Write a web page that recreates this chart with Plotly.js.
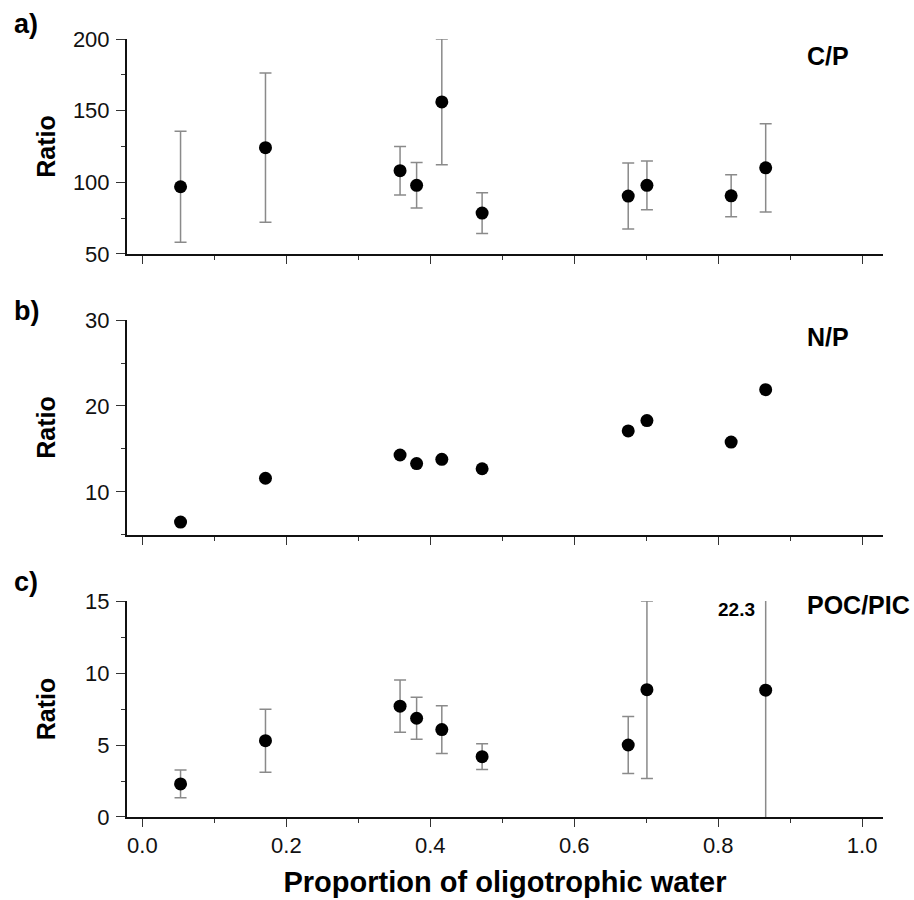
<!DOCTYPE html>
<html>
<head>
<meta charset="utf-8">
<script src="https://cdn.plot.ly/plotly-3.0.1.min.js"></script>
<style>html,body{margin:0;padding:0;background:#fff;}#chart{width:914px;height:900px;}</style>
</head>
<body>
<div id="chart"></div>
<script>
// Proportion of oligotrophic water (x) for each station
const xProp = [0.053, 0.171, 0.358, 0.381, 0.416, 0.472, 0.675, 0.701, 0.818, 0.866];
// a) C/P ratio: mean and error
const cpMean = [96.9, 124.2, 108.1, 97.9, 156.1, 78.5, 90.4, 97.9, 90.6, 110.1];
const cpErr  = [38.8, 52.1, 16.9, 15.9, 43.9, 14.3, 23.0, 17.0, 14.6, 30.8];
// b) N/P ratio: mean
const npMean = [6.5, 11.6, 14.3, 13.3, 13.8, 12.7, 17.1, 18.3, 15.8, 21.9];
// c) POC/PIC ratio: mean and error (no value at 0.818)
const pocMean = [2.3, 5.3, 7.7, 6.86, 6.07, 4.19, 5.0, 8.84, null, 8.81];
const pocErr  = [0.96, 2.19, 1.81, 1.46, 1.66, 0.89, 1.98, 6.16, null, 13.49];
// labels
const panelLetters = ['a)', 'b)', 'c)'];
const panelNames = ['C/P', 'N/P', 'POC/PIC'];
const offScaleLabel = '22.3';
const xTitle = 'Proportion of oligotrophic water';
const yTitle = 'Ratio';

const FONT = '"Liberation Sans", Arial, Helvetica, sans-serif';
const marker = {color: '#000', size: 13, symbol: 'circle'};
const errStyle = {color: '#8a8a8a', thickness: 1.5, width: 6};

const traces = [
  {x: xProp, y: cpMean, type: 'scatter', mode: 'markers', marker: marker, xaxis: 'x', yaxis: 'y',
   error_y: Object.assign({type: 'data', array: cpErr, visible: true}, errStyle)},
  {x: xProp, y: npMean, type: 'scatter', mode: 'markers', marker: marker, xaxis: 'x2', yaxis: 'y2'},
  {x: xProp, y: pocMean, type: 'scatter', mode: 'markers', marker: marker, xaxis: 'x3', yaxis: 'y3',
   error_y: Object.assign({type: 'data', array: pocErr, visible: true}, errStyle)}
];

function xAxis(showLabels, anchor) {
  return {
    anchor: anchor, domain: [0, 1], range: [-0.0214, 1.029],
    showgrid: false, zeroline: false, showline: true, linecolor: '#111', linewidth: 2,
    ticks: 'outside', ticklen: 8, tickwidth: 1, tickcolor: '#333',
    tick0: 0, dtick: 0.2, tickformat: '.1f',
    minor: {dtick: 0.1, ticks: 'outside', ticklen: 4, tickwidth: 1, tickcolor: '#333'},
    showticklabels: showLabels,
    tickfont: {family: FONT, size: 22, color: '#111'}
  };
}
function yAxis(domain, range, dtick, minorDtick, anchor, standoff) {
  return {
    anchor: anchor, domain: domain, range: range,
    showgrid: false, zeroline: false, showline: true, linecolor: '#111', linewidth: 2,
    ticks: 'outside', ticklen: 9, tickwidth: 1, tickcolor: '#333',
    tick0: 0, dtick: dtick,
    minor: {dtick: minorDtick, ticks: 'outside', ticklen: 4, tickwidth: 1, tickcolor: '#333'},
    tickfont: {family: FONT, size: 22, color: '#111'},
    ticklabelstandoff: 2,
    title: {text: yTitle, font: {family: FONT, size: 25, color: '#000', weight: 'bold'}, standoff: standoff}
  };
}

const xa3 = xAxis(true, 'y3');
xa3.title = {text: '<b>' + xTitle + '</b>', font: {family: FONT, size: 29, color: '#000'}, standoff: 14};

function pTop(px) { return 1 - (px - 39) / 778; }

const annotations = [];
const letterY = [24, 311, 582];
panelLetters.forEach((t, i) => annotations.push({
  text: '<b>' + t + '</b>', xref: 'paper', yref: 'paper', x: (12 - 127.3) / 755.4, y: pTop(letterY[i]),
  xanchor: 'left', yanchor: 'middle', showarrow: false, font: {family: FONT, size: 27, color: '#000'}
}));
const nameY = [56, 337, 605];
panelNames.forEach((t, i) => annotations.push({
  text: '<b>' + t + '</b>', xref: 'paper', yref: 'paper', x: (805 - 127.3) / 755.4, y: pTop(nameY[i]),
  xanchor: 'left', yanchor: 'middle', showarrow: false, font: {family: FONT, size: 25, color: '#000'}
}));
annotations.push({
  text: '<b>' + offScaleLabel + '</b>', xref: 'x3', yref: 'y3', x: xProp[9], y: 15,
  xanchor: 'right', yanchor: 'middle', xshift: -9, yshift: -8, showarrow: false,
  font: {family: FONT, size: 19, color: '#000'}
});

const layout = {
  width: 914, height: 900,
  margin: {l: 127, r: 31, t: 39, b: 83},
  paper_bgcolor: '#fff', plot_bgcolor: '#fff',
  showlegend: false,
  font: {family: FONT, color: '#111'},
  xaxis: xAxis(false, 'y'),
  xaxis2: xAxis(false, 'y2'),
  xaxis3: xa3,
  yaxis: yAxis([0.7237, 1], [50, 200], 50, 25, 'x', 10),
  yaxis2: yAxis([0.3625, 0.6388], [5, 30], 10, 5, 'x2', 22),
  yaxis3: yAxis([0, 0.2776], [0, 15], 5, 2.5, 'x3', 22),
  annotations: annotations
};

Plotly.newPlot('chart', traces, layout, {displayModeBar: false, staticPlot: true});
</script>
</body>
</html>
